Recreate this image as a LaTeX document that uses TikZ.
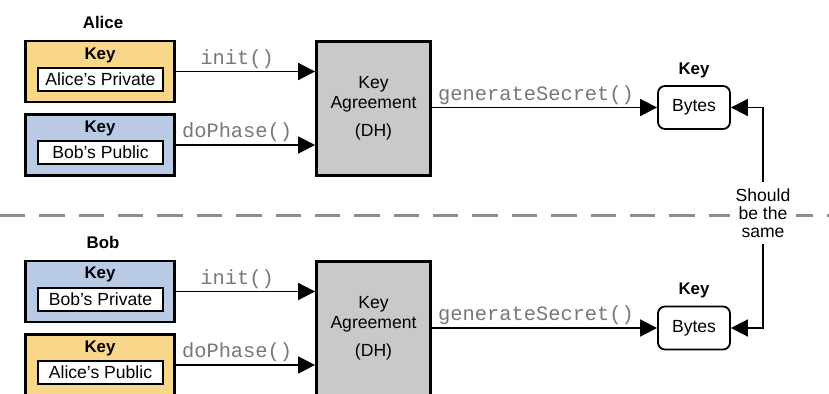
\documentclass[tikz,border=0pt]{standalone}
\usepackage{fontspec}
\setmainfont{Liberation Sans}
\setmonofont{Liberation Mono}
\usepackage{tikz}
\usetikzlibrary{arrows.meta}

\definecolor{alicecol}{HTML}{F8D68A}
\definecolor{bobcol}{HTML}{B9CBE4}
\definecolor{kacol}{HTML}{C9C9C9}
\definecolor{callcol}{HTML}{777777}
\definecolor{sepcol}{HTML}{8C8C8C}

\tikzset{
  keybox/.style={draw,line width=2pt,minimum width=3.73cm,minimum height=1.52cm,inner sep=0pt},
  valbox/.style={draw,fill=white,line width=1.3pt,minimum width=3.12cm,minimum height=0.58cm,inner sep=0pt,
    font=\fontsize{12.5}{13}\selectfont},
  kabox/.style={draw,fill=kacol,line width=2pt,minimum width=2.85cm,minimum height=3.35cm,align=center,
    font=\fontsize{12.5}{14}\selectfont},
  bytesbox/.style={draw,fill=white,rounded corners=5pt,line width=1.3pt,minimum width=1.8cm,minimum height=1.075cm,
    font=\fontsize{12.5}{13}\selectfont},
  ttl/.style={font=\fontsize{12}{13}\selectfont\bfseries},
  call/.style={font=\fontsize{14.5}{15}\ttfamily,text=callcol,inner sep=1.5pt},
  flow/.style={line width=1.3pt,-{Triangle[length=12pt,width=12pt]}},
}

\begin{document}
\begin{tikzpicture}[x=0.025cm,y=-0.025cm]
  \clip (0,0) rectangle (829,394);

  % separator
  \draw[sepcol,line width=2.2pt,dash pattern=on 18 off 10] (0,215.5) -- (829,215.5);

  % Alice
  \node[ttl] (alice) at (103,22) {Alice};
  \node[keybox,fill=alicecol] (aprivA) at (100,71.5) {};
  \node[ttl] at (100,55) {Key};
  \node[valbox] at (100.5,79.5) {Alice's Private};
  \node[keybox,fill=bobcol] (bpubA) at (100,145) {};
  \node[ttl] at (100,128) {Key};
  \node[valbox] at (100.5,152.5) {Bob's Public};

  \node[kabox] (kaA) at (373.5,108.5) {Key\\Agreement\\[6pt](DH)};
  \node[bytesbox] (bytesA) at (694,107.5) {Bytes};
  \node[ttl] at (694,70) {Key};

  \draw[flow] (aprivA.east) -- (aprivA.east -| kaA.west) node[call,midway,above,xshift=-6] {init()};
  \draw[flow] (bpubA.east) -- (bpubA.east -| kaA.west) node[call,midway,above,xshift=-6] {doPhase()};
  \draw[flow] (kaA.east |- bytesA.west) -- (bytesA.west) node[call,midway,above,xshift=-6] {generateSecret()};

  % Bob
  \node[ttl] (bob) at (103,242) {Bob};
  \node[keybox,fill=bobcol] (bprivB) at (100,291.5) {};
  \node[ttl] at (100,274.5) {Key};
  \node[valbox] at (100.5,299.5) {Bob's Private};
  \node[keybox,fill=alicecol] (apubB) at (100,365) {};
  \node[ttl] at (100,348) {Key};
  \node[valbox] at (100.5,372.5) {Alice's Public};

  \node[kabox] (kaB) at (373.5,328.5) {Key\\Agreement\\[6pt](DH)};
  \node[bytesbox] (bytesB) at (694,328) {Bytes};
  \node[ttl] at (694,290) {Key};

  \draw[flow] (bprivB.east) -- (bprivB.east -| kaB.west) node[call,midway,above,xshift=-6] {init()};
  \draw[flow] (apubB.east) -- (apubB.east -| kaB.west) node[call,midway,above,xshift=-6] {doPhase()};
  \draw[flow] (kaB.east |- bytesB.west) -- (bytesB.west) node[call,midway,above,xshift=-6] {generateSecret()};

  % compare
  \node[fill=white,align=center,inner sep=4pt,font=\fontsize{12.5}{13}\selectfont] (same) at (763,213) {Should\\be the\\same};
  \draw[flow] (same.north) |- (bytesA.east);
  \draw[flow] (same.south) |- (bytesB.east);
\end{tikzpicture}
\end{document}
